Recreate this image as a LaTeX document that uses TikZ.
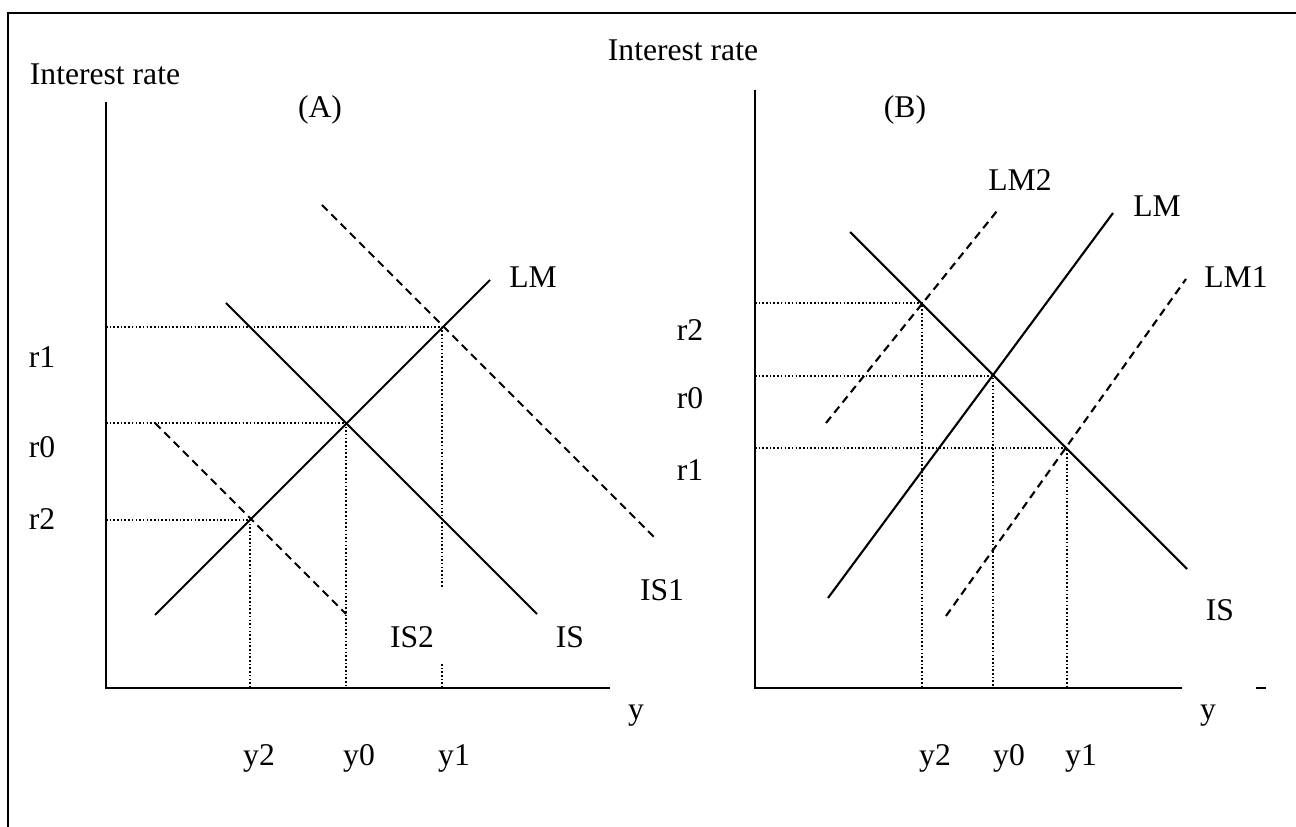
\documentclass[tikz,border=0pt]{standalone}
\usepackage{fontspec}
\setmainfont{Liberation Serif}
\usetikzlibrary{calc}

\begin{document}
\begin{tikzpicture}[x=0.02cm,y=-0.02cm,
  font=\fontsize{18}{21}\selectfont,
  axis/.style={line width=1.3pt},
  curve/.style={line width=1.2pt},
  shifted/.style={line width=1.2pt,dash pattern=on 4.5pt off 3pt},
  guide/.style={line width=0.9pt,dash pattern=on 0.9pt off 1.2pt},
  lbl/.style={inner sep=0pt}]
\useasboundingbox (0,0) rectangle (1296,827);
\draw[axis] (8,827) -- (8,13) -- (1296,13);

% panel A
\coordinate (oA) at (106,688);
\coordinate (topA) at (106,102);
\coordinate (endA) at (610,688);
\coordinate (eA0) at (346,423);
\coordinate (eA1) at (442,327);
\coordinate (eA2) at (250,520);
\coordinate (gapA1) at (442,588);
\coordinate (gapA2) at (442,664);
\draw[guide] (oA |- eA1) -- (eA1) -- (gapA1);
\draw[guide] (gapA2) -- (eA1 |- oA);
\draw[guide] (oA |- eA0) -- (eA0) -- (eA0 |- oA);
\draw[guide] (oA |- eA2) -- (eA2) -- (eA2 |- oA);
\draw[axis] (topA) -- (oA) -- (endA);
\coordinate (lmA1) at (155,615);
\coordinate (lmA2) at (490,280);
\coordinate (isA1) at (226,303);
\coordinate (isA2) at (537,614);
\coordinate (isA1a) at (322,205);
\coordinate (isA1b) at (657,540);
\coordinate (isA2a) at (155,423);
\coordinate (isA2b) at (346,614);
\draw[curve] (lmA1) -- (lmA2);
\draw[curve] (isA1) -- (isA2);
\draw[shifted] (isA1a) -- (isA1b);
\draw[shifted] (isA2a) -- (isA2b);
\node[lbl] (rateA) at (105,74) {Interest rate};
\node[lbl] (titleA) at (320,110) {(A)};
\node[lbl] (r1A) at (42,357) {r1};
\node[lbl] (r0A) at (42,447) {r0};
\node[lbl] (r2A) at (42,519) {r2};
\node[lbl] (lmAl) at (533,277) {LM};
\node[lbl] (is1Al) at (662,590) {IS1};
\node[lbl] (is2Al) at (412,637) {IS2};
\node[lbl] (isAl) at (570,637) {IS};
\node[lbl] (yA) at (636,716) {y};
\node[lbl] (y2A) at (259,758) {y2};
\node[lbl] (y0A) at (359,758) {y0};
\node[lbl] (y1A) at (454,758) {y1};

% panel B
\coordinate (oB) at (755,688);
\coordinate (topB) at (755,90);
\coordinate (endB) at (1182,688);
\coordinate (eB0) at (993,376);
\coordinate (eB1) at (1067,448);
\coordinate (eB2) at (922,303);
\draw[guide] (oB |- eB2) -- (eB2) -- (eB2 |- oB);
\draw[guide] (oB |- eB0) -- (eB0) -- (eB0 |- oB);
\draw[guide] (oB |- eB1) -- (eB1) -- (eB1 |- oB);
\draw[axis] (topB) -- (oB) -- (endB);
\draw[axis] (1256,688) -- (1266,688);
\coordinate (isB1) at (850,232);
\coordinate (isB2) at (1187,569);
\coordinate (lmB1) at (828,598);
\coordinate (lmB2) at (1113,213);
\coordinate (lm2B1) at (826,423);
\coordinate (lm2B2) at (997,211);
\coordinate (lm1B1) at (946,616);
\coordinate (lm1B2) at (1186,279);
\draw[curve] (isB1) -- (isB2);
\draw[curve] (lmB1) -- (lmB2);
\draw[shifted] (lm2B1) -- (lm2B2);
\draw[shifted] (lm1B1) -- (lm1B2);
\node[lbl] (rateB) at (683,50) {Interest rate};
\node[lbl] (titleB) at (905,110) {(B)};
\node[lbl] (r2B) at (690,330) {r2};
\node[lbl] (r0B) at (690,398) {r0};
\node[lbl] (r1B) at (690,470) {r1};
\node[lbl] (lm2Bl) at (1020,180) {LM2};
\node[lbl] (lmBl) at (1157,206) {LM};
\node[lbl] (lm1Bl) at (1236,277) {LM1};
\node[lbl] (isBl) at (1220,610) {IS};
\node[lbl] (yB) at (1208,716) {y};
\node[lbl] (y2B) at (935,758) {y2};
\node[lbl] (y0B) at (1009,758) {y0};
\node[lbl] (y1B) at (1081,758) {y1};
\end{tikzpicture}
\end{document}
